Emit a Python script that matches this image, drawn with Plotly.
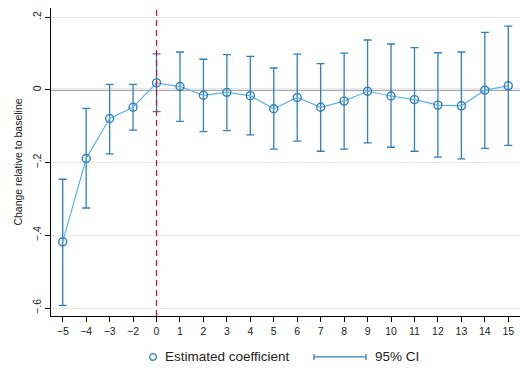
import plotly.graph_objects as go

periods = ["−5", "−4", "−3", "−2", "0", "1", "2", "3", "4", "5", "6", "7", "8", "9",
           "10", "11", "12", "13", "14", "15"]
coef = [-0.418, -0.189, -0.079, -0.048, 0.019, 0.009, -0.015, -0.007, -0.016, -0.052,
        -0.021, -0.048, -0.031, -0.004, -0.017, -0.027, -0.042, -0.044, -0.001, 0.011]
ci_hi = [-0.246, -0.051, 0.015, 0.015, 0.099, 0.104, 0.084, 0.097, 0.092, 0.060,
         0.098, 0.072, 0.101, 0.137, 0.126, 0.116, 0.102, 0.104, 0.158, 0.175]
ci_lo = [-0.593, -0.325, -0.176, -0.111, -0.060, -0.087, -0.115, -0.112, -0.124, -0.163,
         -0.141, -0.169, -0.163, -0.146, -0.158, -0.169, -0.185, -0.190, -0.161, -0.153]
event_period = "0"
y_ticks = [-0.6, -0.4, -0.2, 0, 0.2]
y_tick_labels = ["−.6", "−.4", "−.2", "0", ".2"]

BAR = "#2f80bf"
LINE = "#5cb5ea"
FONT = "Liberation Sans, Arial, sans-serif"

fig = go.Figure()
fig.add_trace(go.Scatter(
    x=periods, y=coef, mode="markers",
    marker=dict(size=1, color="rgba(0,0,0,0)"),
    error_y=dict(type="data", symmetric=False,
                 array=[h - c for h, c in zip(ci_hi, coef)],
                 arrayminus=[c - l for c, l in zip(coef, ci_lo)],
                 color=BAR, thickness=1.3, width=4),
    showlegend=False, hoverinfo="skip"))
fig.add_trace(go.Scatter(x=periods, y=coef, mode="lines",
                         line=dict(color=LINE, width=1.2), showlegend=False))
fig.add_trace(go.Scatter(x=periods, y=coef, mode="markers",
                         marker=dict(symbol="circle-open", size=8, color=BAR,
                                     line=dict(width=1.4, color=BAR)),
                         showlegend=False))

# zero line and event line
fig.add_shape(type="line", xref="paper", x0=0, x1=1, yref="y", y0=0, y1=0,
              line=dict(color="#a9a9a9", width=2.2), layer="between")
ev = periods.index(event_period)
fig.add_shape(type="line", xref="x", x0=ev, x1=ev, yref="paper", y0=0, y1=1,
              line=dict(color="#c8102e", width=1.2, dash="6px,4px"))

# custom legend
ly = -0.133
fig.add_shape(type="circle", xref="paper", yref="paper", xsizemode="pixel", ysizemode="pixel",
              xanchor=0.2175, yanchor=ly, x0=-3.3, x1=3.3, y0=-3.3, y1=3.3,
              line=dict(color=BAR, width=1.3))
fig.add_annotation(xref="paper", yref="paper", x=0.238, y=ly, text="Estimated coefficient",
                   showarrow=False, xanchor="left", yanchor="middle",
                   font=dict(size=13.5, color="#222", family=FONT))
x0p, x1p = (314 - 51) / 469, (366 - 51) / 469
fig.add_shape(type="line", xref="paper", yref="paper", x0=x0p, x1=x1p, y0=ly, y1=ly,
              line=dict(color=BAR, width=1.3))
for xp in (x0p, x1p):
    fig.add_shape(type="line", xref="paper", yref="paper", ysizemode="pixel", yanchor=ly,
                  x0=xp, x1=xp, y0=-3, y1=3, line=dict(color=BAR, width=1.3))
fig.add_annotation(xref="paper", yref="paper", x=(373 - 51) / 469, y=ly, text="95% CI",
                   showarrow=False, xanchor="left", yanchor="middle",
                   font=dict(size=13.5, color="#222", family=FONT))

fig.update_layout(
    width=521, height=370,
    margin=dict(l=51, r=1, t=8, b=54),
    plot_bgcolor="white", paper_bgcolor="white",
    font=dict(family=FONT, size=10.5, color="#222"),
    xaxis=dict(type="category", categoryorder="array", categoryarray=periods,
               range=[-0.5, len(periods) - 0.5],
               showgrid=False, zeroline=False, showline=True, linecolor="black", linewidth=1.2,
               ticks="outside", ticklen=5, tickcolor="black", tickfont=dict(size=10.5)),
    yaxis=dict(range=[-0.622, 0.225], tickvals=y_ticks, ticktext=y_tick_labels,
               tickangle=-90, showgrid=True, gridcolor="#e8e8e8", gridwidth=1,
               zeroline=False, showline=True, linecolor="black", linewidth=1.2,
               ticks="outside", ticklen=5, tickcolor="black", tickfont=dict(size=10.5),
               title=dict(text="Change relative to baseline", font=dict(size=10.5), standoff=6)),
)

fig.write_html("out.html")
